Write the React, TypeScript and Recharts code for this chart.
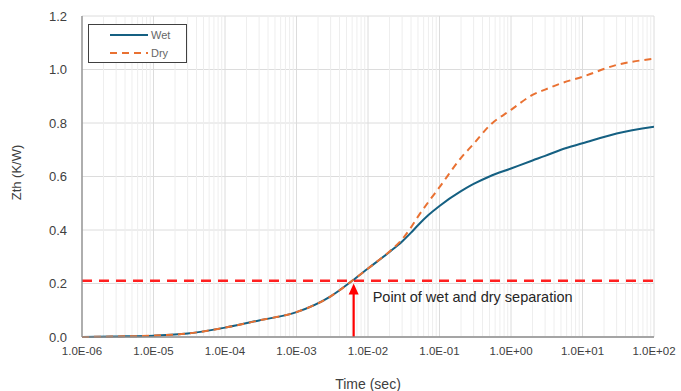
import React from 'react';
import {
  LineChart,
  Line,
  XAxis,
  YAxis,
  CartesianGrid,
  ReferenceLine } from
'recharts';

// time in seconds (log scale)
const time = [
1e-6, 3e-6, 1e-5, 3e-5, 1e-4, 3e-4, 1e-3, 3e-3, 6e-3, 1e-2, 2e-2, 3e-2, 4e-2, 5e-2, 7e-2,
1e-1, 2e-1, 3e-1, 5e-1, 1, 2, 3, 5, 10, 30, 100];

const wet = [
0, 0.002, 0.005, 0.013, 0.035, 0.062, 0.093, 0.152, 0.21, 0.256, 0.318, 0.357, 0.39, 0.418, 0.456,
0.49, 0.545, 0.572, 0.6, 0.63, 0.66, 0.677, 0.7, 0.724, 0.761, 0.786];

const dry = [
0, 0.002, 0.005, 0.013, 0.035, 0.062, 0.093, 0.152, 0.21, 0.256, 0.32, 0.365, 0.41, 0.45, 0.505,
0.56, 0.67, 0.722, 0.79, 0.849, 0.905, 0.925, 0.948, 0.973, 1.017, 1.04];

const xTicks = [1e-6, 1e-5, 1e-4, 1e-3, 1e-2, 1e-1, 1, 10, 100];
const xTickLabels = [
'1.0E-06', '1.0E-05', '1.0E-04', '1.0E-03', '1.0E-02',
'1.0E-01', '1.0E+00', '1.0E+01', '1.0E+02'];

const yTicks = [0, 0.2, 0.4, 0.6, 0.8, 1.0, 1.2];

const separationZth = 0.21;
const separationTime = 6.3e-3;

const data = time.map((t, i) => ({ t, wet: wet[i], dry: dry[i] }));

// minor log grid lines (2..9 within each decade)
const minorTicks: number[] = [];
xTicks.slice(0, -1).forEach((d) => {
  for (let k = 2; k <= 9; k++) minorTicks.push(d * k);
});

const font = '"Liberation Sans", Arial, sans-serif';
const xTickStyle = { fill: '#404040', fontSize: 11.5, fontFamily: font };
const yTickStyle = { fill: '#404040', fontSize: 13, fontFamily: font };

const LegendBox = () =>
<div
  style={{
    position: 'absolute',
    left: 80,
    top: 16,
    width: 97,
    height: 37,
    border: '1px solid #404040',
    background: '#fff',
    fontFamily: font,
    fontSize: 11,
    color: '#666666'
  }}>
    <div style={{ display: 'flex', alignItems: 'center', height: 18, marginTop: 1 }}>
      <svg width={62} height={10}>
        <line x1={21} y1={5} x2={59} y2={5} stroke="#156082" strokeWidth={2} />
      </svg>
      <span>Wet</span>
    </div>
    <div style={{ display: 'flex', alignItems: 'center', height: 18 }}>
      <svg width={62} height={10}>
        <line x1={21} y1={5} x2={59} y2={5} stroke="#E97132" strokeWidth={2} strokeDasharray="7 5" />
      </svg>
      <span>Dry</span>
    </div>
  </div>;


const Arrow = (props: any) => {
  const { x1, y1, x2, y2 } = props;
  const top = Math.min(y1, y2);
  const bottom = Math.max(y1, y2);
  return (
    <g>
      <line x1={x1} y1={bottom} x2={x2} y2={top + 8} stroke="#ff0000" strokeWidth={2.2} />
      <polygon points={`${x1 - 5},${top + 11} ${x1 + 5},${top + 11} ${x1},${top}`} fill="#ff0000" />
      <text
        x={x1 + 19}
        y={top + 18}
        fontSize={14.5}
        fontFamily={font}
        fill="#262626">
        Point of wet and dry separation
      </text>
    </g>);

};

export default function App() {
  return (
    <div style={{ position: 'absolute', left: 8, top: 8, width: 673, height: 383 }}>
      <LineChart
        width={673}
        height={383}
        data={data}
        margin={{ top: 8, right: 27, left: 0, bottom: 0 }}>

        <CartesianGrid stroke="#dcdcdc" strokeWidth={1} />
        {minorTicks.map((v) =>
        <ReferenceLine key={v} x={v} stroke="#eeeeee" strokeWidth={1} />
        )}
        <XAxis
          dataKey="t"
          type="number"
          scale="log"
          domain={[1e-6, 100]}
          allowDataOverflow
          ticks={xTicks}
          tickFormatter={(v: number) => xTickLabels[xTicks.indexOf(v)] ?? ''}
          tick={xTickStyle}
          tickLine={false}
          tickMargin={4}
          axisLine={{ stroke: '#8c8c8c', strokeWidth: 1.3 }}
          height={54}
          label={{
            value: 'Time (sec)',
            position: 'insideBottom',
            offset: 2,
            style: { fill: '#404040', fontSize: 14, fontFamily: font }
          }} />

        <YAxis
          type="number"
          domain={[0, 1.2]}
          ticks={yTicks}
          tickFormatter={(v: number) => v.toFixed(1)}
          tick={yTickStyle}
          tickLine={false}
          tickMargin={9}
          axisLine={{ stroke: '#8c8c8c', strokeWidth: 1.3 }}
          width={74}
          label={{
            value: 'Zth (K/W)',
            angle: -90,
            position: 'insideLeft',
            offset: 8,
            dy: -4,
            style: { fill: '#404040', fontSize: 13, fontFamily: font, textAnchor: 'middle' }
          }} />

        <ReferenceLine
          y={separationZth}
          stroke="#ff2020"
          strokeWidth={2.5}
          strokeDasharray="10 7" />

        <Line
          type="monotone"
          dataKey="wet"
          name="Wet"
          stroke="#156082"
          strokeWidth={2}
          dot={false}
          isAnimationActive={false} />

        <Line
          type="monotone"
          dataKey="dry"
          name="Dry"
          stroke="#E97132"
          strokeWidth={2}
          strokeDasharray="7 5"
          dot={false}
          isAnimationActive={false} />

        <ReferenceLine
          segment={[
          { x: separationTime, y: 0 },
          { x: separationTime, y: 0.2 }]
          }
          shape={Arrow} />

      </LineChart>
      <LegendBox />
    </div>);

}
